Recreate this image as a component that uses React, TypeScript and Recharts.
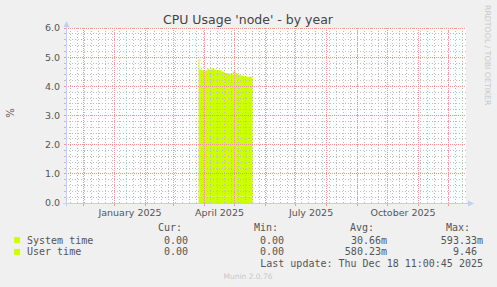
import { AreaChart, Area, XAxis, YAxis, ReferenceLine } from 'recharts'

const DAY = 86400000
const utc = (s: string) => Date.parse(s + 'T00:00:00Z')

// values (stacked, in %)
const dates = [
  '2025-03-26', '2025-03-27', '2025-03-29', '2025-03-31', '2025-04-02', '2025-04-04',
  '2025-04-06', '2025-04-08', '2025-04-10', '2025-04-12', '2025-04-15', '2025-04-18',
  '2025-04-21', '2025-04-24', '2025-04-27', '2025-04-29', '2025-04-30', '2025-05-02',
  '2025-05-04', '2025-05-07', '2025-05-10', '2025-05-13', '2025-05-16', '2025-05-19',
]
const systemTime = [
  0.59, 0.23, 0.22, 0.22, 0.22, 0.23, 0.22, 0.23, 0.22, 0.22, 0.22, 0.22,
  0.22, 0.22, 0.22, 0.22, 0.23, 0.22, 0.22, 0.22, 0.22, 0.22, 0.22, 0.22,
]
const userTime = [
  4.36, 4.35, 4.33, 4.32, 4.33, 4.37, 4.34, 4.39, 4.36, 4.33, 4.33, 4.28,
  4.24, 4.22, 4.19, 4.26, 4.3, 4.23, 4.18, 4.14, 4.13, 4.11, 4.11, 4.1,
]

const seriesNames = ['System time', 'User time']
const curValues = ['0.00', '0.00']
const minValues = ['0.00', '0.00']
const avgValues = ['30.66m', '580.23m']
const maxValues = ['593.33m', '9.46 ']

const labelMonths = ['January 2025', 'April 2025', 'July 2025', 'October 2025']
const labelMonthIdx = [0, 3, 6, 9]

const lastUpdate = Date.parse('2025-12-18T11:00:45Z')
const spanDays = 400
const yTicks = [0, 1, 2, 3, 4, 5, 6]

const AREA = '#ccff00'
const AXIS = '#c6cdf4'
const MINOR = '#bdbdbd'
const MAJOR = '#eb9a9a'
const TEXT = '#555'

const start = lastUpdate - spanDays * DAY
const data = dates.map((d, i) => ({ t: utc(d), system: systemTime[i], user: userTime[i] }))

const monthStarts = Array.from({ length: 13 }, (_, i) => Date.UTC(2024, 11 + i, 1))
const firstMonday = utc('2024-11-18')
const weeks: number[] = []
for (let t = firstMonday; t < lastUpdate; t += 7 * DAY) weeks.push(t)
const labelTicks = labelMonthIdx.map((m) => (Date.UTC(2025, m, 1) + Date.UTC(2025, m + 1, 1)) / 2)
const labelMap = new Map(labelTicks.map((t, i) => [t, labelMonths[i]]))
const monthSet = new Set(monthStarts)
const xTicks = [...monthStarts, ...labelTicks]

const yMinor: number[] = []
for (let i = 1; i < 30; i++) if (i % 5 !== 0) yMinor.push(i / 5)
const yAll = [...yTicks, ...yMinor]

const XTick = (props: any) => {
  const { x, y, payload } = props
  const v = payload.value
  if (labelMap.has(v)) {
    return (
      <text x={x} y={y + 13} textAnchor="middle" fontSize={9.5} fill={TEXT} fontFamily="DejaVu Sans">
        {labelMap.get(v)}
      </text>
    )
  }
  if (monthSet.has(v))
    return <line x1={x} x2={x} y1={y} y2={y + 3} stroke={MAJOR} shapeRendering="crispEdges" />
  return <g />
}

const YTick = (props: any) => {
  const { x, y, payload } = props
  const v = payload.value
  const major = Math.abs(v - Math.round(v)) < 1e-6
  return (
    <g>
      <line x1={x - 2} x2={x} y1={y} y2={y} stroke={major ? MAJOR : MINOR} shapeRendering="crispEdges" />
      {major && (
        <text x={x - 6} y={y} dy="0.36em" textAnchor="end" fontSize={9.5} fill={TEXT} fontFamily="DejaVu Sans">
          {v.toFixed(1)}
        </text>
      )}
    </g>
  )
}

const mono = 'DejaVu Sans Mono'

const App = () => {
  return (
    <div style={{ position: 'absolute', left: 0, top: 0, width: 497, height: 287, background: '#f0f0f0' }}>
      <div style={{ position: 'absolute', left: 66, top: 28, width: 400, height: 175, background: '#fff' }} />
      <div style={{ position: 'absolute', left: 0, top: 0 }}>
        <AreaChart width={497} height={287} data={data} margin={{ top: 28, right: 31, left: 26, bottom: 64 }}>
          <XAxis
            dataKey="t"
            type="number"
            scale="linear"
            domain={[start, lastUpdate]}
            allowDataOverflow
            ticks={xTicks}
            interval={0}
            tick={<XTick />}
            tickLine={false}
            tickSize={0}
            tickMargin={0}
            axisLine={false}
            height={20}
          />
          <YAxis
            type="number"
            domain={[0, 6]}
            ticks={yAll}
            interval={0}
            tick={<YTick />}
            tickLine={false}
            tickSize={0}
            tickMargin={0}
            axisLine={false}
            width={40}
          />
          <Area
            type="stepAfter"
            dataKey="system"
            stackId="cpu"
            fill={AREA}
            fillOpacity={1}
            stroke="none"
            isAnimationActive={false}
          />
          <Area
            type="stepAfter"
            dataKey="user"
            stackId="cpu"
            fill={AREA}
            fillOpacity={1}
            stroke="none"
            isAnimationActive={false}
          />
          {weeks.map((t) => (
            <ReferenceLine key={'w' + t} x={t} stroke={MINOR} strokeDasharray="1 2" shapeRendering="crispEdges" />
          ))}
          {yMinor.map((v) => (
            <ReferenceLine key={'ym' + v} y={v} stroke={MINOR} strokeDasharray="1 2" shapeRendering="crispEdges" />
          ))}
          {monthStarts.map((t) => (
            <ReferenceLine key={'m' + t} x={t} stroke={MAJOR} strokeDasharray="1 1" shapeRendering="crispEdges" />
          ))}
          {yTicks.map((v) => (
            <ReferenceLine key={'y' + v} y={v} stroke={MAJOR} strokeDasharray="1 1" shapeRendering="crispEdges" />
          ))}
        </AreaChart>
      </div>
      <svg width={497} height={287} style={{ position: 'absolute', left: 0, top: 0, pointerEvents: 'none' }}>
        {/* axes with arrows */}
        <line x1={66.5} x2={66.5} y1={206} y2={25} stroke={AXIS} />
        <path d="M63.5,27 L66.5,21 L69.5,27 Z" fill={AXIS} />
        <line x1={63} x2={469} y1={203.5} y2={203.5} stroke={AXIS} />
        <path d="M468,200.5 L474,203.5 L468,206.5 Z" fill={AXIS} />

        <text x={248} y={23.5} textAnchor="middle" fontSize={12.5} fill="#444" fontFamily="DejaVu Sans">
          CPU Usage 'node' - by year
        </text>
        <text
          x={0}
          y={0}
          transform="translate(14,113) rotate(-90)"
          textAnchor="middle"
          fontSize={10}
          fill={TEXT}
          fontFamily="DejaVu Sans"
        >
          %
        </text>
        <text
          x={0}
          y={0}
          transform="translate(484.5,5) rotate(90)"
          textAnchor="start"
          fontSize={7.8}
          fill="#c8c8c8"
          fontFamily="DejaVu Sans"
        >
          RRDTOOL / TOBI OETIKER
        </text>

        <g fontFamily={mono} fontSize={10} fill={TEXT}>
          <text x={182} y={231} textAnchor="end">Cur:</text>
          <text x={278} y={231} textAnchor="end">Min:</text>
          <text x={374} y={231} textAnchor="end">Avg:</text>
          <text x={470} y={231} textAnchor="end">Max:</text>
          {seriesNames.map((name, i) => {
            const yb = 243.6 + i * 11.8
            return (
              <g key={name}>
                <rect x={14} y={yb - 6.5} width={6} height={6} fill={AREA} />
                <text x={27} y={yb}>{name}</text>
                <text x={188} y={yb} textAnchor="end">{curValues[i]}</text>
                <text x={284} y={yb} textAnchor="end">{minValues[i]}</text>
                <text x={387} y={yb} textAnchor="end">{avgValues[i]}</text>
                <text x={483} y={yb} textAnchor="end" style={{ whiteSpace: 'pre' }}>{maxValues[i]}</text>
              </g>
            )
          })}
          <text x={483} y={267} textAnchor="end">Last update: Thu Dec 18 11:00:45 2025</text>
        </g>
        <text x={248} y={279} textAnchor="middle" fontSize={7.5} fill="#c8c8c8" fontFamily="DejaVu Sans">
          Munin 2.0.76
        </text>
      </svg>
    </div>
  )
}

export default App
